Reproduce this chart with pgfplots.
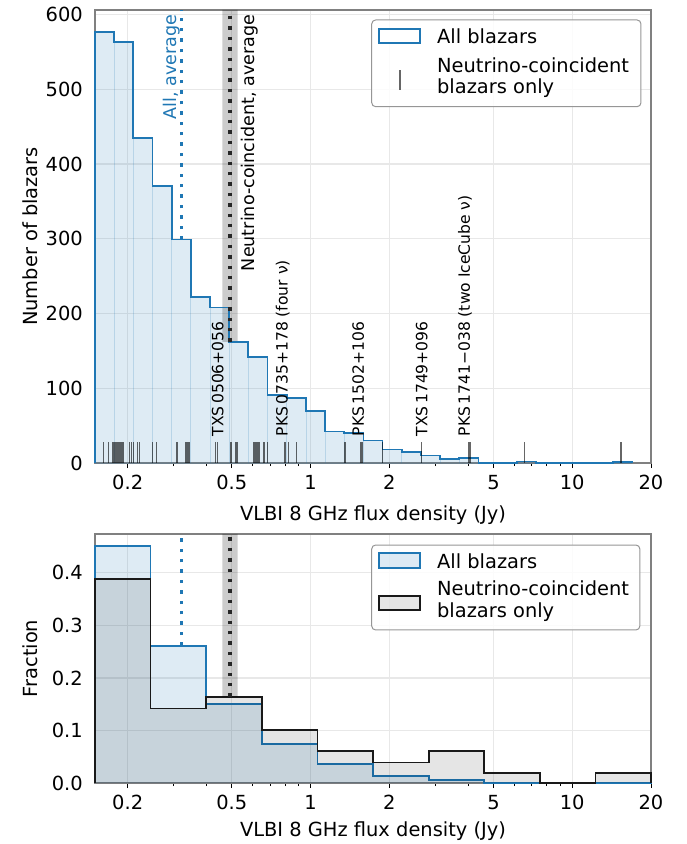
\documentclass[border=0pt]{standalone}
\usepackage{fontspec}
\setmainfont{DejaVu Sans}
\usepackage{pgfplots}
\pgfplotsset{compat=1.18}
\pgfkeys{/pgf/number format/assume math mode=true}
\definecolor{C0}{RGB}{31,119,180}
\definecolor{framegray}{RGB}{128,128,128}
\definecolor{gridgray}{RGB}{232,232,232}
\definecolor{leggray}{RGB}{150,150,150}
\tikzset{dotline/.style={line width=1.7bp, dash pattern=on 1.7bp off 3.5bp}}
\begin{document}
\begin{tikzpicture}
\useasboundingbox (0,0) rectangle (343.5bp,422bp);
% ---------------- top panel ----------------
\begin{axis}[scale only axis, width=278bp, height=226.5bp,
  at={(47.5bp,190.5bp)}, anchor=south west,
  xmode=log, xmin=0.15, xmax=20,
  xtick={0.2,0.5,1,2,5,10,20},
  xticklabels={\mbox{0.2},\mbox{0.5},\mbox{1},\mbox{2},\mbox{5},\mbox{10},\mbox{20}},
  minor xtick={0.3,0.4,0.6,0.7,0.8,0.9,3,4,6,7,8,9},
  grid=major, major grid style={draw=gridgray, line width=0.6bp},
  axis line style={draw=framegray, line width=0.6bp},
  tick align=outside, xtick pos=left, ytick pos=left,
  major tick length=2.6bp, minor tick length=1.6bp,
  xtick style={draw=black, line width=0.45bp},
  ytick style={draw=none},
  tick label style={font=\fontsize{9.75}{11.7}\selectfont},
  label style={font=\fontsize{9.75}{11.7}\selectfont},
  clip=false,
  ymin=0, ymax=606, ytick={0,100,200,300,400,500,600},
  xlabel={VLBI 8 GHz flux density (Jy)}, ylabel={Number of blazars},
  xlabel style={at={(axis description cs:0.5,-0.1148)}, anchor=center},
  ylabel style={at={(axis description cs:-0.117,0.5)}, anchor=center}]
\addplot[ybar interval, fill=C0, fill opacity=0.15, draw=C0, draw opacity=0.2, line width=0.4bp, forget plot]
 coordinates {(0.15,577)(0.17757,563)(0.21020,435)(0.24883,371)(0.29457,299)(0.34871,222)(0.41279,208)(0.48866,162)(0.57847,142)(0.68479,91)(0.81065,87)(0.95965,70)(1.1360,42)(1.3448,40)(1.5920,30)(1.8845,18)(2.2309,15)(2.6409,10)(3.1262,5)(3.7009,7)(4.3810,0)(5.1862,0)(6.1393,2)(7.2676,0)(8.6034,0)(10.1845,0)(12.057,0)(14.272,1)(16.895,1)};
\addplot[draw=none, fill=black, fill opacity=0.2, forget plot]
 coordinates {(0.4598,162)(0.5266,162)(0.5266,606)(0.4598,606)(0.4598,162)};
\addplot[const plot mark left, draw=C0, line width=0.9bp, forget plot]
 coordinates {(0.15,0)(0.15,577)(0.17757,563)(0.21020,435)(0.24883,371)(0.29457,299)(0.34871,222)(0.41279,208)(0.48866,162)(0.57847,142)(0.68479,91)(0.81065,87)(0.95965,70)(1.1360,42)(1.3448,40)(1.5920,30)(1.8845,18)(2.2309,15)(2.6409,10)(3.1262,5)(3.7009,7)(4.3810,0)(5.1862,0)(6.1393,2)(7.2676,0)(8.6034,0)(10.1845,0)(12.057,0)(14.272,1)(16.895,1)(16.895,0)};
\addplot[ycomb, no marks, draw=black, draw opacity=0.6, line width=0.55bp, forget plot]
 coordinates {(0.16191,28)(0.16860,28)(0.17571,28)(0.17633,28)(0.17695,28)(0.17821,28)(0.17946,28)(0.18073,28)(0.18137,28)(0.18201,28)(0.18330,28)(0.18459,28)(0.18589,28)(0.18721,28)(0.18853,28)(0.19188,28)(0.20280,28)(0.20713,28)(0.21081,28)(0.21760,28)(0.22147,28)
 (0.24836,28)(0.25725,28)(0.30867,28)(0.33322,28)(0.33616,28)(0.33913,28)(0.34212,28)(0.34515,28)
 (0.43380,28)(0.44151,28)(0.49644,28)(0.51878,28)(0.52660,28)(0.60783,28)(0.61697,28)(0.62407,28)(0.63125,28)(0.63907,28)
 (0.66374,28)(0.68332,28)(0.79843,28)(0.82193,28)(0.88501,28)
 (1.35337,28)(1.55128,28)(1.57190,28)(1.87936,28)(2.65872,28)(4.00661,28)(4.06705,28)(6.5585,28)(15.360,28)};
\addplot[C0, dotline, forget plot] coordinates {(0.3217,299)(0.3217,606)};
\addplot[black!85, dotline, forget plot] coordinates {(0.4921,162)(0.4921,606)};
\node[rotate=90, anchor=south east, inner sep=0pt, text=C0, font=\fontsize{8.8}{10}\selectfont]
  at (axis cs:0.3195,600) {All, average};
\node[rotate=90, anchor=north east, inner sep=0pt, font=\fontsize{8.8}{10}\selectfont]
  at (axis cs:0.5421,600) {Neutrino-coincident, average};
\node[rotate=90, anchor=west, inner sep=0pt, font=\fontsize{7.8}{9}\selectfont] at (axis cs:0.44151,35.2) {TXS\,0506+056};
\node[rotate=90, anchor=west, inner sep=0pt, font=\fontsize{7.8}{9}\selectfont] at (axis cs:0.7821,35.2) {PKS\,0735+178 (four ν)};
\node[rotate=90, anchor=west, inner sep=0pt, font=\fontsize{7.8}{9}\selectfont] at (axis cs:1.5216,35.2) {PKS\,1502+106};
\node[rotate=90, anchor=west, inner sep=0pt, font=\fontsize{7.8}{9}\selectfont] at (axis cs:2.6587,35.2) {TXS\,1749+096};
\node[rotate=90, anchor=west, inner sep=0pt, font=\fontsize{7.8}{9}\selectfont] at (axis cs:3.8925,35.2) {PKS\,1741−038 (two IceCube ν)};
\draw[draw=leggray, line width=0.5bp, rounded corners=2bp, fill=white, fill opacity=0.85]
  (axis description cs:0.4977,0.7865) rectangle (axis description cs:0.982,0.978);
\draw[draw=C0, line width=0.9bp, fill=white]
  (axis description cs:0.5108,0.9278) rectangle (axis description cs:0.5845,0.9574);
\node[anchor=west, inner sep=0pt, font=\fontsize{9.75}{11.7}\selectfont]
  at (axis description cs:0.6146,0.9426) {All blazars};
\draw[draw=black, draw opacity=0.6, line width=0.55bp]
  (axis description cs:0.5486,0.8234) -- (axis description cs:0.5486,0.8675);
\node[anchor=west, inner sep=0pt, align=left, font=\fontsize{9.75}{10.8}\selectfont]
  at (axis description cs:0.6146,0.851) {Neutrino-coincident\\blazars only};
\end{axis}
% ---------------- bottom panel ----------------
\begin{axis}[scale only axis, width=278bp, height=124.5bp,
  at={(47.5bp,30.5bp)}, anchor=south west,
  xmode=log, xmin=0.15, xmax=20,
  xtick={0.2,0.5,1,2,5,10,20},
  xticklabels={\mbox{0.2},\mbox{0.5},\mbox{1},\mbox{2},\mbox{5},\mbox{10},\mbox{20}},
  minor xtick={0.3,0.4,0.6,0.7,0.8,0.9,3,4,6,7,8,9},
  grid=major, major grid style={draw=gridgray, line width=0.6bp},
  axis line style={draw=framegray, line width=0.6bp},
  tick align=outside, xtick pos=left, ytick pos=left,
  major tick length=2.6bp, minor tick length=1.6bp,
  xtick style={draw=black, line width=0.45bp},
  ytick style={draw=none},
  tick label style={font=\fontsize{9.75}{11.7}\selectfont},
  label style={font=\fontsize{9.75}{11.7}\selectfont},
  clip=false,
  ymin=0, ymax=0.474, ytick={0,0.1,0.2,0.3,0.4},
  yticklabels={\mbox{0.0},\mbox{0.1},\mbox{0.2},\mbox{0.3},\mbox{0.4}},
  xlabel={VLBI 8 GHz flux density (Jy)}, ylabel={Fraction},
  xlabel style={at={(axis description cs:0.5,-0.193)}, anchor=center},
  ylabel style={at={(axis description cs:-0.117,0.5)}, anchor=center}]
\addplot[ybar interval, fill=C0, fill opacity=0.15, draw=none, forget plot]
 coordinates {(0.15,0.451)(0.24467,0.2615)(0.39910,0.150)(0.65098,0.074)(1.06186,0.036)(1.7320,0.014)(2.8252,0.0057)(4.6084,0.0006)(7.5170,0)(12.261,0.0003)(20,0.0003)};
\addplot[const plot mark left, draw=C0, line width=0.9bp, forget plot]
 coordinates {(0.15,0)(0.15,0.451)(0.24467,0.2615)(0.39910,0.150)(0.65098,0.074)(1.06186,0.036)(1.7320,0.014)(2.8252,0.0057)(4.6084,0.0006)(7.5170,0)(12.261,0.0003)(20,0.0003)(20,0)};
\addplot[ybar interval, fill=black, fill opacity=0.1, draw=none, forget plot]
 coordinates {(0.15,0.389)(0.24467,0.142)(0.39910,0.164)(0.65098,0.101)(1.06186,0.061)(1.7320,0.039)(2.8252,0.0616)(4.6084,0.0184)(7.5170,0)(12.261,0.0184)(20,0.0184)};
\addplot[const plot mark left, draw=black!90, line width=0.9bp, forget plot]
 coordinates {(0.15,0)(0.15,0.389)(0.24467,0.142)(0.39910,0.164)(0.65098,0.101)(1.06186,0.061)(1.7320,0.039)(2.8252,0.0616)(4.6084,0.0184)(7.5170,0)(12.261,0.0184)(20,0.0184)(20,0)};
\addplot[draw=none, fill=black, fill opacity=0.2, forget plot]
 coordinates {(0.4598,0.164)(0.5266,0.164)(0.5266,0.474)(0.4598,0.474)(0.4598,0.164)};
\addplot[C0, dotline, forget plot] coordinates {(0.3217,0.2615)(0.3217,0.474)};
\addplot[black!85, dotline, forget plot] coordinates {(0.4921,0.164)(0.4921,0.474)};
\draw[draw=leggray, line width=0.5bp, rounded corners=2bp, fill=white, fill opacity=0.85]
  (axis description cs:0.4977,0.6145) rectangle (axis description cs:0.98,0.9558);
\draw[draw=C0, line width=0.9bp, fill=C0, fill opacity=0.15]
  (axis description cs:0.5108,0.8647) rectangle (axis description cs:0.5845,0.9237);
\node[anchor=west, inner sep=0pt, font=\fontsize{9.75}{11.7}\selectfont]
  at (axis description cs:0.6146,0.8916) {All blazars};
\draw[draw=black!90, line width=0.9bp, fill=black, fill opacity=0.1]
  (axis description cs:0.5108,0.6948) rectangle (axis description cs:0.5845,0.751);
\node[anchor=west, inner sep=0pt, align=left, font=\fontsize{9.75}{10.8}\selectfont]
  at (axis description cs:0.6146,0.731) {Neutrino-coincident\\blazars only};
\end{axis}
\end{tikzpicture}
\end{document}
